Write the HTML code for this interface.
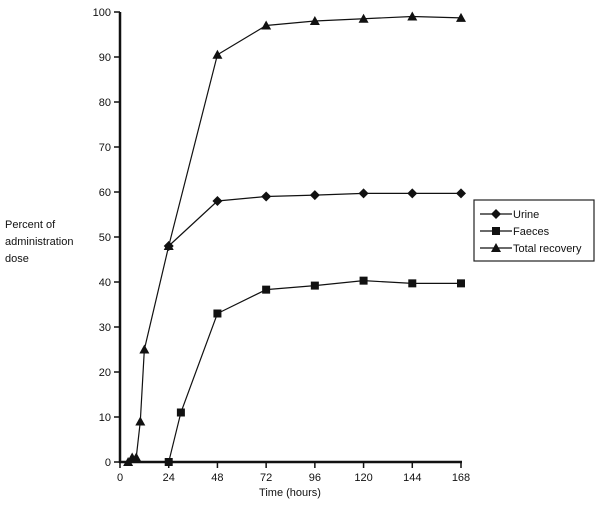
<!DOCTYPE html>
<html><head><meta charset="utf-8"><style>
body{margin:0;background:#fff;font-family:"Liberation Sans",sans-serif;}
svg text{font-family:"Liberation Sans",sans-serif;font-size:11px;fill:#111;}
</style></head><body>
<svg width="600" height="507" viewBox="0 0 600 507">
<g id="axes"></g>
<g id="series"></g>
<text x="5" y="228">Percent of</text>
<text x="5" y="245">administration</text>
<text x="5" y="262">dose</text>
<text x="290" y="496" text-anchor="middle">Time (hours)</text>
<g>
<rect x="474" y="200" width="120" height="61" fill="#fff" stroke="#222" stroke-width="1.2"/>
<g><line x1="480" x2="512" y1="214" y2="214" stroke="#111" stroke-width="1.2"/><path d="M496 209 L501 214 L496 219 L491 214Z" fill="#111"/><text x="513" y="218">Urine</text></g>
<g><line x1="480" x2="512" y1="231" y2="231" stroke="#111" stroke-width="1.2"/><rect x="492" y="227" width="8" height="8" fill="#111"/><text x="513" y="235">Faeces</text></g>
<g><line x1="480" x2="512" y1="248" y2="248" stroke="#111" stroke-width="1.2"/><path d="M496 243 L501 252 L491 252Z" fill="#111"/><text x="513" y="252">Total recovery</text></g>
</g>
</svg>
<script>
const xTicks=[0,24,48,72,96,120,144,168];
const yTicks=[0,10,20,30,40,50,60,70,80,90,100];
const totalT=[4,6,8,10,12,24,48,72,96,120,144,168];
const totalV=[0,1,1,9,25,48,90.5,97,98,98.5,99,98.7];
const urineT=[24,48,72,96,120,144,168];
const urineV=[48,58,59,59.3,59.7,59.7,59.7];
const faecesT=[24,30,48,72,96,120,144,168];
const faecesV=[0,11,33,38.3,39.2,40.3,39.7,39.7];
const NS="http://www.w3.org/2000/svg";
const X=t=>120+t*(461-120)/168, Y=v=>462-v*4.5;
function mk(tag,attrs,parent){const e=document.createElementNS(NS,tag);for(const k in attrs)e.setAttribute(k,attrs[k]);parent.appendChild(e);return e;}
const ax=document.getElementById('axes');
let l=mk('line',{x1:120,x2:120,y1:12,y2:463,stroke:'#111','stroke-width':2.5},ax);


l=mk('line',{x1:119,x2:462,y1:462,y2:462,stroke:'#111','stroke-width':2.5},ax);


yTicks.forEach(v=>{const g=mk('g',{},ax);


mk('line',{x1:114,x2:120,y1:Y(v),y2:Y(v),stroke:'#111','stroke-width':1.5},g);
const t=mk('text',{x:111,y:Y(v)+4,'text-anchor':'end'},g);t.textContent=v;});
xTicks.forEach(v=>{const g=mk('g',{},ax);


mk('line',{x1:X(v),x2:X(v),y1:462,y2:468,stroke:'#111','stroke-width':1.5},g);
const t=mk('text',{x:X(v),y:481,'text-anchor':'middle'},g);t.textContent=v;});
const sg=document.getElementById('series');
function series(name,T,V,marker){const g=mk('g',{},sg);


const p=mk('polyline',{points:T.map((t,i)=>X(t)+','+Y(V[i])).join(' '),fill:'none',stroke:'#111','stroke-width':1.2},g);


T.forEach((t,i)=>{const x=X(t),y=Y(V[i]);let m;
if(marker==='d')m=mk('path',{d:`M${x} ${y-5}L${x+5} ${y}L${x} ${y+5}L${x-5} ${y}Z`,fill:'#111'},g);
else if(marker==='s')m=mk('rect',{x:x-4,y:y-4,width:8,height:8,fill:'#111'},g);
else m=mk('path',{d:`M${x} ${y-5}L${x+5} ${y+4}L${x-5} ${y+4}Z`,fill:'#111'},g);

});}
series('urine',urineT,urineV,'d');
series('faeces',faecesT,faecesV,'s');
series('total',totalT,totalV,'t');
</script>
</body></html>
